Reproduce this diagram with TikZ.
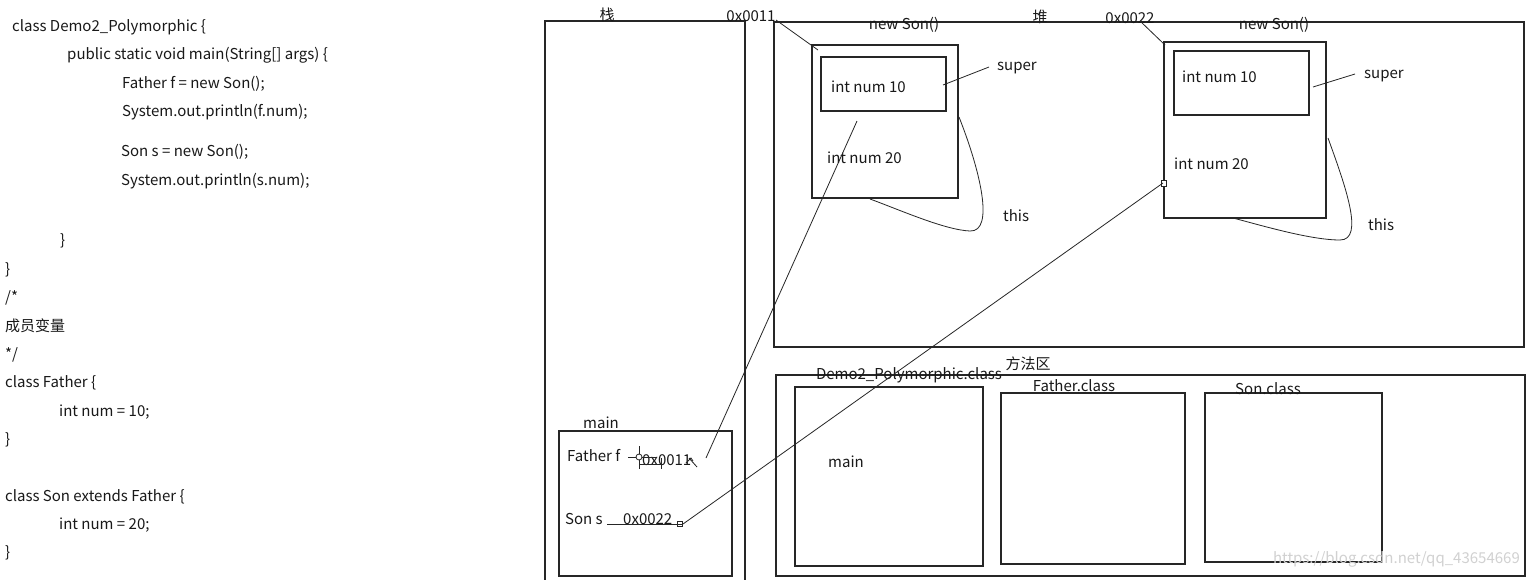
\documentclass[tikz,border=0pt]{standalone}
\usepackage{fontspec}
\setmainfont{Noto Sans CJK SC}
\begin{document}
\begin{tikzpicture}[x=1pt,y=-1pt,
  txt/.style={inner sep=0pt,text=black!90,font=\fontsize{15}{18}\selectfont},
  code/.style={txt,anchor=west},
  lbl/.style={txt,anchor=center},
  ln/.style={draw=black!85,line width=1.1pt},
  thin/.style={draw=black!85,line width=0.8pt}]
\useasboundingbox[fill=white] (0,0) rectangle (1529,579);
% ---------- code ----------
\node[code] (c1) at (12,27) {class Demo2\_Polymorphic \{};
\node[code] (c2) at (67,55) {public static void main(String[] args) \{};
\node[code] (c3) at (122,84) {Father f = new Son();};
\node[code] (c4) at (122,112) {System.out.println(f.num);};
\node[code] (c5) at (121,152) {Son s = new Son();};
\node[code] (c6) at (121,181) {System.out.println(s.num);};
\node[code] (c7) at (60,241) {\}};
\node[code] (c8) at (5,270) {\}};
\node[code] (c9) at (5,298) {/*};
\node[code] (c10) at (5,326) {成员变量};
\node[code] (c11) at (5,355) {*/};
\node[code] (c12) at (5,383) {class Father \{};
\node[code] (c13) at (59,412) {int num = 10;};
\node[code] (c14) at (5,440) {\}};
\node[code] (c15) at (5,497) {class Son extends Father \{};
\node[code] (c16) at (59,525) {int num = 20;};
\node[code] (c17) at (5,553) {\}};
% ---------- stack ----------
\draw[ln] (545,580) -- (545,21) -- (745,21) -- (745,580);
\node[lbl] (zhan) at (607,15) {栈};
\draw[ln] (559,431) rectangle (732,576);
\node[lbl] (mainlbl) at (601,423) {main};
\node[code] (ff) at (567,456) {Father f};
\node[code] (addr1) at (642,460) {0x0011};
\node[code] (ss) at (565,519) {Son s};
\node[code] (addr2) at (623,519) {0x0022};
% cursor marks
\draw[thin] (628,457) -- (657,457);
\draw[thin] (639,446) -- (639,469);
\draw[thin,fill=white] (639,457) circle (3);
\draw[thin] (639,464) -- (661,464);
\draw[thin] (661,458) -- (661,469);
\draw[thin] (689,458) -- (697,467);
\draw[thin] (686,463) -- (691,458) -- (693,461);
% underline of 0x0022
\coordinate (s0) at (607,524);
\coordinate (s1) at (683,524);
\draw[thin] (s0) -- (s1);
\draw[thin] (677,521) rectangle (682,526);
% ---------- heap ----------
\draw[ln] (774,22) rectangle (1524,347);
\node[lbl] (dui) at (1040,17) {堆};
\node[lbl] (h1) at (751,16) {0x0011};
\node[lbl] (h2) at (1130,18) {0x0022};
% object 1
\draw[ln] (812,45) rectangle (958,198);
\draw[ln] (821,57) rectangle (946,111);
\node[lbl] (ns1) at (904,25) {new Son()};
\node[code] (a10) at (831,87) {int num 10};
\node[code] (a20) at (827,158) {int num 20};
\node[code] (sup1) at (997,68) {super};
\node[code] (this1) at (1003,216) {this};
\coordinate (o1tl) at (818,50);
\coordinate (o1in) at (857,121);
\coordinate (sp1a) at (943,85);
\coordinate (sp1b) at (989,67);
\draw[thin] (776,20) -- (o1tl);
\draw[thin] (sp1a) -- (sp1b);
\draw[thin] (959,117) .. controls (980,170) and (995,232) .. (970,231)
  .. controls (945,230) and (900,210) .. (870,199);
% object 2
\draw[ln] (1164,42) rectangle (1326,218);
\draw[ln] (1174,51) rectangle (1309,115);
\node[lbl] (ns2) at (1274,25) {new Son()};
\node[code] (b10) at (1182,77) {int num 10};
\node[code] (b20) at (1174,164) {int num 20};
\node[code] (sup2) at (1364,76) {super};
\node[code] (this2) at (1368,225) {this};
\coordinate (o2tl) at (1165,45);
\coordinate (o2in) at (1163,183);
\coordinate (sp2a) at (1313,87);
\coordinate (sp2b) at (1355,74);
\draw[thin] (1140,21) -- (o2tl);
\draw[thin] (sp2a) -- (sp2b);
\draw[thin] (1328,138) .. controls (1345,185) and (1365,240) .. (1340,240)
  .. controls (1310,240) and (1260,225) .. (1233,218);
\draw[thin,fill=white] (1161,180) rectangle (1166,186);
% ---------- method area ----------
\draw[ln] (776,375) rectangle (1525,576);
\node[lbl] (ff2) at (1028,364) {方法区};
\draw[ln] (795,387) rectangle (983,566);
\draw[ln] (1001,393) rectangle (1185,564);
\draw[ln] (1205,393) rectangle (1382,562);
\node[lbl] (dc) at (909,375) {Demo2\_Polymorphic.class};
\node[lbl] (fc) at (1074,386) {Father.class};
\node[lbl] (sc) at (1268,389) {Son.class};
\node[code] (mm) at (828,462) {main};
\node[txt,anchor=east,text=black!18] (wm) at (1520,559) {https://blog.csdn.net/qq\_43654669};
% ---------- references ----------
\coordinate (r1) at (706,458);
\draw[thin] (r1) -- (o1in);
\draw[thin] (s1) -- (o2in);
\end{tikzpicture}
\end{document}
